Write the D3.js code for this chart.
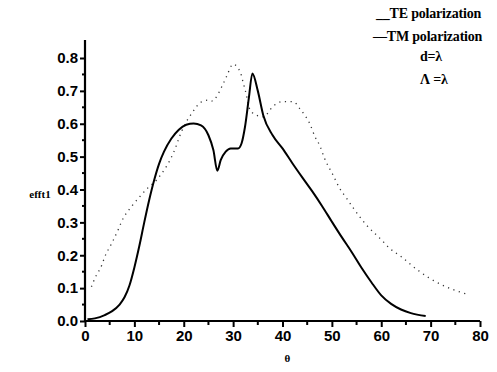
<!DOCTYPE html>
<html>
<head>
<meta charset="utf-8">
<script src="https://cdn.jsdelivr.net/npm/d3@7"></script>
<style>
  body { margin: 0; background: #fff; }
  svg { display: block; }
</style>
</head>
<body>
<div id="chart"></div>
<script>
// TE polarization (solid)
const teTheta = [0.5, 2, 4, 5.5, 7, 8, 9, 10, 11, 12, 13, 14, 15, 16, 17.5, 19, 20.5, 22, 23.5, 25, 26, 26.8,
  27.5, 28.5, 29.5, 31, 31.7, 32.4, 33.2, 33.9, 35, 36.1, 38, 40, 42, 44, 46, 48, 50, 52, 54, 56, 58, 60, 62, 64, 66, 69];
const teValues = [0.005, 0.008, 0.018, 0.03, 0.05, 0.072, 0.108, 0.163, 0.228, 0.3, 0.368, 0.428, 0.478, 0.515, 0.555,
  0.582, 0.597, 0.601, 0.595, 0.565, 0.52, 0.457, 0.49, 0.515, 0.525, 0.525, 0.54, 0.59, 0.68, 0.753, 0.7, 0.626, 0.565,
  0.525, 0.48, 0.437, 0.395, 0.35, 0.302, 0.255, 0.21, 0.162, 0.118, 0.078, 0.052, 0.035, 0.024, 0.015];

// TM polarization (dotted)
const tmTheta = [1.3, 2, 3.4, 4, 5.4, 6.7, 7.4, 9.4, 10.8, 12.8, 14.5, 15.5, 17.9, 19.6, 22.3, 23.3, 25, 25.6,
  28, 28.7, 30, 31.5, 32, 32.7, 33.2, 33.7, 36.1, 38.1, 39.8, 42.2, 43.5, 44.5, 45.5, 46.6, 47.6, 48.4, 50.3,
  51.6, 53, 54.5, 57, 60.1, 61.7, 64.1, 66.5, 69.8, 73, 77.3];
const tmValues = [0.104, 0.13, 0.17, 0.195, 0.236, 0.277, 0.302, 0.348, 0.373, 0.406, 0.429, 0.448, 0.511, 0.578,
  0.646, 0.664, 0.672, 0.669, 0.722, 0.745, 0.781, 0.755, 0.727, 0.687, 0.651, 0.636, 0.621, 0.653, 0.667,
  0.667, 0.646, 0.626, 0.601, 0.56, 0.532, 0.499, 0.442, 0.403, 0.373, 0.34, 0.292, 0.246, 0.221, 0.195,
  0.165, 0.13, 0.105, 0.082];

const xTicks = [0, 10, 20, 30, 40, 50, 60, 70, 80];
const yTicks = [0, 0.1, 0.2, 0.3, 0.4, 0.5, 0.6, 0.7, 0.8];
const legendLines = ["__TE polarization", "\u2014TM polarization", "d=\u03bb", "\u039b =\u03bb"];

const width = 497, height = 372;

const x = d3.scaleLinear().domain([0, 80]).range([85, 480]);
const y = d3.scaleLinear().domain([0, 0.8]).range([321, 58]);

const svg = d3.select("#chart").append("svg")
  .attr("width", width)
  .attr("height", height);

// curves
const line = d3.line()
  .x(d => x(d[0]))
  .y(d => y(d[1]))
  .curve(d3.curveMonotoneX);

svg.append("path")
  .attr("d", line(d3.zip(tmTheta, tmValues)))
  .attr("fill", "none")
  .attr("stroke", "#333")
  .attr("stroke-width", 1.3)
  .attr("stroke-dasharray", "1.2,4.5");

svg.append("path")
  .attr("d", line(d3.zip(teTheta, teValues)))
  .attr("fill", "none")
  .attr("stroke", "#000")
  .attr("stroke-width", 2);

// axes
const xAxis = svg.append("g")
  .attr("transform", "translate(0," + y(0) + ")")
  .call(d3.axisBottom(x).tickValues(xTicks).tickSize(6).tickPadding(3).tickFormat(d3.format("d")));
const yAxis = svg.append("g")
  .attr("transform", "translate(" + x(0) + ",0)")
  .call(d3.axisLeft(y).tickValues(yTicks).tickSize(5).tickPadding(2).tickFormat(d3.format(".1f")));

// minor ticks
xAxis.selectAll(".minor").data(d3.range(5, 80, 10)).enter()
  .append("line")
  .attr("x1", d => x(d)).attr("x2", d => x(d))
  .attr("y1", 0).attr("y2", 4)
  .attr("stroke", "#000").attr("stroke-width", 2);
yAxis.selectAll(".minor").data([0.05, 0.15, 0.25, 0.35, 0.45, 0.55, 0.65, 0.75]).enter()
  .append("line")
  .attr("y1", d => y(d)).attr("y2", d => y(d))
  .attr("x1", 0).attr("x2", -3)
  .attr("stroke", "#000").attr("stroke-width", 2);

[xAxis, yAxis].forEach(g => {
  g.select(".domain").remove();
  g.selectAll(".tick line").attr("stroke-width", 2);
  g.selectAll("text")
    .attr("fill", "#000")
    .style("font-family", "'Liberation Sans', Arial, sans-serif")
    .style("font-size", "15px")
    .style("font-weight", "bold");
});
svg.append("line")
  .attr("x1", x(0)).attr("x2", x(80)).attr("y1", y(0)).attr("y2", y(0))
  .attr("stroke", "#000").attr("stroke-width", 2.2);
svg.append("line")
  .attr("x1", x(0)).attr("x2", x(0)).attr("y1", y(0)).attr("y2", y(0.855))
  .attr("stroke", "#000").attr("stroke-width", 2.2);

// axis titles
svg.append("text")
  .attr("x", 40).attr("y", 198)
  .attr("text-anchor", "middle")
  .style("font-family", "'Liberation Serif', 'Times New Roman', serif")
  .style("font-size", "11px").style("font-weight", "bold")
  .text("efft1");
svg.append("text")
  .attr("x", x(41)).attr("y", 362)
  .attr("text-anchor", "middle")
  .style("font-family", "'Liberation Serif', 'Times New Roman', serif")
  .style("font-size", "11px").style("font-weight", "bold")
  .text("\u03b8");

// legend
const legendX = [376, 373, 420, 420];
const legendY = [18, 41, 61, 84];
svg.selectAll(".legend").data(legendLines).enter()
  .append("text")
  .attr("x", (d, i) => legendX[i])
  .attr("y", (d, i) => legendY[i])
  .style("font-family", "'Liberation Serif', 'Times New Roman', serif")
  .style("font-size", "14px").style("font-weight", "bold")
  .style("letter-spacing", "-0.2px")
  .text(d => d);
</script>
</body>
</html>
